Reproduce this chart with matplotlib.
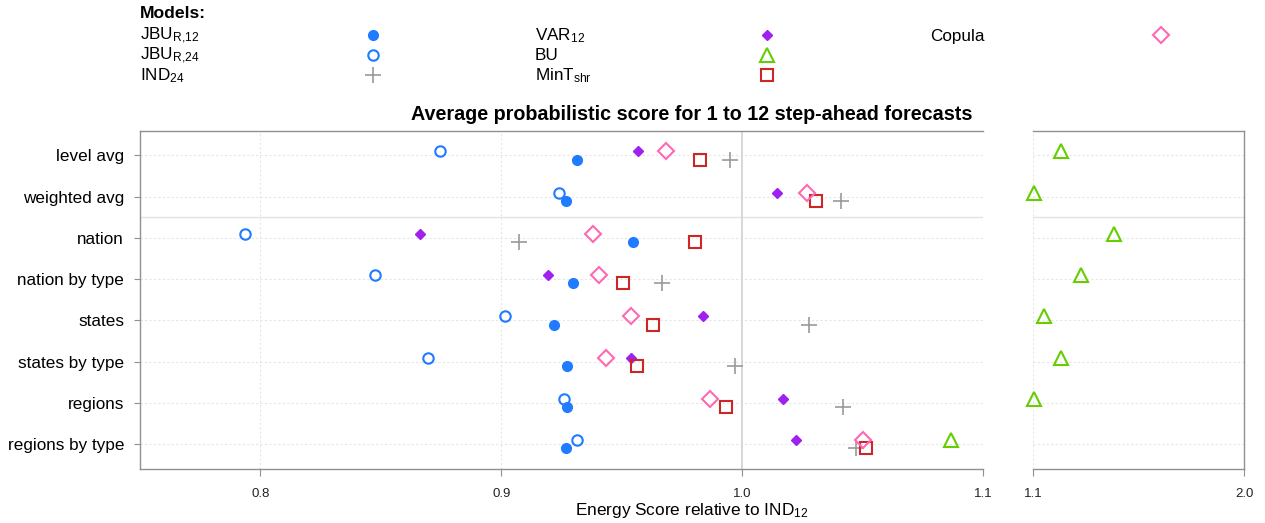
import matplotlib
matplotlib.use("Agg")
import matplotlib.pyplot as plt
import numpy as np

plt.rcParams['font.family'] = ['Liberation Sans', 'DejaVu Sans']
plt.rcParams['mathtext.default'] = 'regular'

categories = ["level avg", "weighted avg", "nation", "nation by type",
              "states", "states by type", "regions", "regions by type"]

jbu12  = [0.9313, 0.9270, 0.9545, 0.9299, 0.9220, 0.9274, 0.9271, 0.9270]
jbu24  = [0.8744, 0.9240, 0.7934, 0.8474, 0.9017, 0.8697, 0.9259, 0.9314]
ind24  = [0.9948, 1.0411, 0.9074, 0.9668, 1.0277, 0.9972, 1.0420, 1.0474]
var12  = [0.9569, 1.0143, 0.8662, 0.9194, 0.9836, 0.9540, 1.0169, 1.0224]
bu     = [1.218, 1.101, 1.445, 1.303, 1.144, 1.219, 1.101, 1.0868]
mint   = [0.9827, 1.0306, 0.9806, 0.9507, 0.9629, 0.9562, 0.9934, 1.0515]
copula = [0.9683, 1.0270, 0.9379, 0.9407, 0.9537, 0.9435, 0.9868, 1.0501]

left_ticks = [0.8, 0.9, 1.0, 1.1]
right_ticks = [1.1, 2.0]

BLUE = "#1f7bff"
PURPLE = "#a020f0"
GREEN = "#66cd00"
RED = "#cd2626"
PINK = "#ff69b4"
GRAY = "#9a9a9a"

# (label, values, marker, face, edge, ms, mew, offset)
models = [
    ("JBU$_{R{,}12}$", jbu12, "o", BLUE, BLUE, 7.0, 1.0, 0.1),
    ("JBU$_{R{,}24}$", jbu24, "o", "none", BLUE, 7.5, 1.5, -0.1),
    ("IND$_{24}$", ind24, "+", GRAY, GRAY, 12, 1.2, 0.1),
    ("VAR$_{12}$", var12, "D", PURPLE, PURPLE, 5.0, 1.0, -0.1),
    ("BU", bu, "^", "none", GREEN, 10, 1.5, -0.1),
    ("MinT$_{shr}$", mint, "s", "none", RED, 8, 1.5, 0.1),
    ("Copula", copula, "D", "none", PINK, 8.5, 1.5, -0.1),
]

W, H = 1265, 523
fig = plt.figure(figsize=(W / 100, H / 100), dpi=100)

def fx(px):
    return px / W

def fy(py):
    return 1 - py / H

ax_top, ax_bot = 130.7, 469
axL = fig.add_axes([fx(140), fy(ax_bot), fx(983 - 140), (ax_bot - ax_top) / H])
axR = fig.add_axes([fx(1033.3), fy(ax_bot), fx(1244.3 - 1033.3), (ax_bot - ax_top) / H])

ypos = np.arange(len(categories))
split = 1.1

for ax in (axL, axR):
    ax.set_ylim(len(categories) - 0.4, -0.6)
    for y in ypos:
        ax.axhline(y, color="#e6e6e6", lw=0.8, ls=(0, (2, 2)), zorder=0)
    ax.axhline(1.5, color="#e3e3e3", lw=1.0, zorder=0)
    for s in ax.spines.values():
        s.set_color("#909090")
        s.set_linewidth(1.0)

axL.set_xlim(0.75, 1.1)
axR.set_xlim(1.1, 2.0)

for xv in [0.8, 0.9, 1.1]:
    axL.axvline(xv, color="#e6e6e6", lw=0.8, ls=(0, (2, 2)), zorder=0)
axL.axvline(1.0, color="#d4d4d4", lw=1.3, zorder=0)
axR.axvline(1.1, color="#e6e6e6", lw=0.8, ls=(0, (2, 2)), zorder=0)

axL.spines["right"].set_visible(False)
axR.spines["left"].set_visible(False)

for label, vals, mk, face, edge, ms, mew, off in models:
    v = np.array(vals, dtype=float)
    yy = ypos + off
    mL = v <= split
    mR = v > split
    kw = dict(ls="none", marker=mk, ms=ms, mew=mew, mfc=face, mec=edge,
              color=edge, zorder=3, clip_on=False)
    if mL.any():
        axL.plot(v[mL], yy[mL], **kw)
    if mR.any():
        axR.plot(v[mR], yy[mR], **kw)

axL.set_yticks(ypos)
axL.set_yticklabels(categories, fontsize=12.3)
axL.tick_params(axis="y", length=4, color="#909090", pad=7.5)
axL.set_xticks(left_ticks)
axL.set_xticklabels([f"{t:.1f}" for t in left_ticks], fontsize=9.5, color="#222222")
axL.tick_params(axis="x", length=5, color="#909090", pad=9)

axR.set_yticks([])
axR.set_xticks(right_ticks)
axR.set_xticklabels([f"{t:.1f}" for t in right_ticks], fontsize=9.5, color="#222222")
axR.tick_params(axis="x", length=5, color="#909090", pad=9)

fig.text(fx(692), fy(115), "Average probabilistic score for 1 to 12 step-ahead forecasts",
         ha="center", va="center", fontsize=14.2, fontweight="bold")
fig.text(fx(692), fy(510), "Energy Score relative to IND$_{12}$",
         ha="center", va="center", fontsize=12.4)

# legend
fig.text(fx(140), fy(13), "Models:", ha="left", va="center", fontsize=12.6, fontweight="bold")
legax = fig.add_axes([0, 0, 1, 1], facecolor="none")
legax.set_xlim(0, W)
legax.set_ylim(H, 0)
legax.axis("off")
col_text = [140, 535, 930]
col_mark = [372.5, 767, 1161]
row_y = [36, 56, 76]
for i, (label, vals, mk, face, edge, ms, mew, off) in enumerate(models):
    c, r = divmod(i, 3)
    legax.text(col_text[c], row_y[r], label, ha="left", va="center", fontsize=12.3)
    legax.plot([col_mark[c]], [row_y[r] - 1], ls="none", marker=mk, ms=ms, mew=mew,
               mfc=face, mec=edge, color=edge)

fig.savefig("out.png", dpi=100)
